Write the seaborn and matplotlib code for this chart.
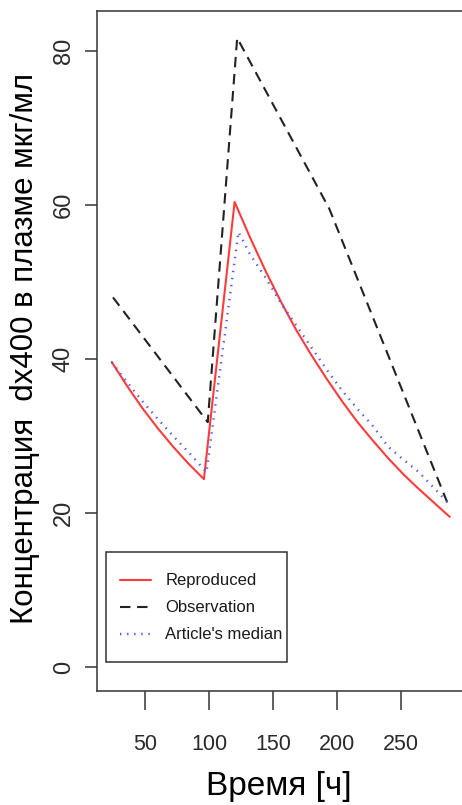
import matplotlib
matplotlib.use("Agg")
import matplotlib.pyplot as plt
from matplotlib.patches import Rectangle
import seaborn as sns

# Plasma concentration of dx400 over time
repro_t = [24, 36, 48, 60, 72, 84, 96, 120, 132, 144, 156, 168, 180, 192,
           204, 216, 228, 240, 252, 264, 276, 288]
repro_c = [39.6, 36.5, 33.6, 31.0, 28.6, 26.4, 24.4, 60.4, 55.8, 51.5, 47.5,
           43.8, 40.5, 37.4, 34.5, 31.8, 29.4, 27.1, 25.0, 23.1, 21.3, 19.5]

obs_t = [25, 99, 122, 194, 287]
obs_c = [48.0, 31.8, 81.7, 59.5, 21.0]

median_t = [24, 36, 48, 60, 72, 84, 98, 123, 132, 144, 156, 168, 180, 192,
            204, 216, 228, 240, 252, 264, 276, 287]
median_c = [39.6, 37.0, 34.5, 32.2, 30.0, 27.9, 25.3, 56.5, 53.6, 50.6, 47.3,
            44.4, 41.5, 38.6, 35.9, 33.5, 31.3, 28.6, 26.9, 25.3, 23.2, 21.3]

x_ticks = [50, 100, 150, 200, 250]
y_ticks = [0, 20, 40, 60, 80]
series_names = ["Reproduced", "Observation", "Article's median"]

sns.set_style("white")
plt.rcParams["font.family"] = ["Liberation Sans", "DejaVu Sans"]

fig = plt.figure(figsize=(4.62, 8.05), dpi=100)
ax = fig.add_axes([97 / 462, (805 - 691) / 805, 366 / 462, 680 / 805])

sns.lineplot(x=repro_t, y=repro_c, ax=ax, color="#ff3b3b", lw=1.5,
             label=series_names[0])
sns.lineplot(x=obs_t, y=obs_c, ax=ax, color="#222222", lw=1.5,
             label=series_names[1])
sns.lineplot(x=median_t, y=median_c, ax=ax, color="#4a5cff", lw=1.7,
             label=series_names[2])
ax.lines[1].set_dashes([5, 3.2])
ax.lines[2].set_linestyle((0, (0.6, 2.4)))

ax.set_xlim(12.5, 298.4)
ax.set_ylim(-3.12, 85.2)
ax.set_xticks(x_ticks)
ax.set_yticks(y_ticks)

for s in ax.spines.values():
    s.set_color("#333333")
    s.set_linewidth(1.1)

# tick lengths / pads are in points (dpi 100)
ax.tick_params(axis="x", bottom=True, direction="out", length=13.7, width=1.1,
               color="#333333", pad=17, labelsize=15.5, labelcolor="#2a2a2a")
ax.tick_params(axis="y", left=True, direction="out", length=8.6, width=1.1,
               color="#333333", pad=7.5, labelsize=17, labelcolor="#2a2a2a")
for lab in ax.get_yticklabels():
    lab.set_rotation(90)
    lab.set_va("center")

ax.set_xlabel("Время [ч]", fontsize=24, color="black")
ax.xaxis.set_label_coords(0.497, -0.1177)
ax.set_ylabel("Концентрация  dx400 в плазме мкг/мл", fontsize=22.5,
              color="black")
ax.yaxis.set_label_coords(-0.157, 0.5037)

leg = ax.legend(loc="center left", bbox_to_anchor=(0.0628, 0.1221),
                borderaxespad=0, borderpad=0, frameon=False,
                prop={"size": 12},
                handlelength=1.89, handletextpad=0.83, labelspacing=0.72)
for t in leg.get_texts():
    t.set_color("#1a1a1a")
ax.add_patch(Rectangle((0.0246, 0.0426), 0.4945, 0.1618,
                       transform=ax.transAxes, fill=False,
                       edgecolor="#333333", linewidth=1.1, zorder=5))

fig.savefig("out.png", dpi=100)
